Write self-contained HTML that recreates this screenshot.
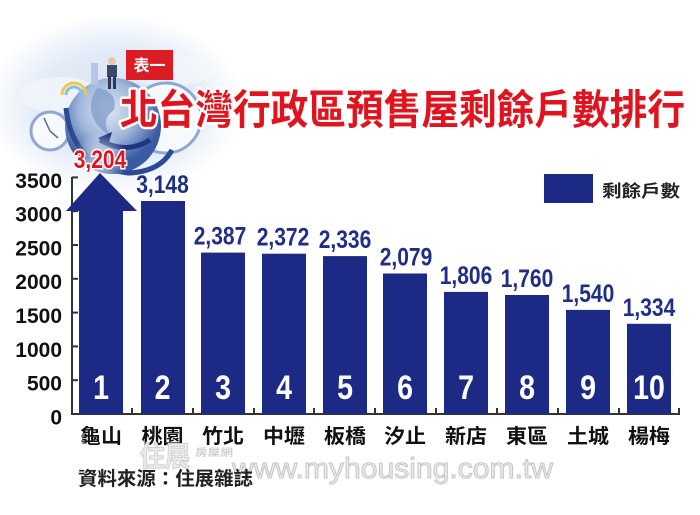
<!DOCTYPE html>
<html><head><meta charset="utf-8"><style>
html,body{margin:0;padding:0;background:#fff;}
svg{display:block;}
text{font-family:"Liberation Sans","Noto Sans CJK TC",sans-serif;}
.cjk{font-family:"Liberation Sans","Noto Sans CJK TC",sans-serif;font-weight:700;}
</style></head><body>
<svg width="700" height="515" viewBox="0 0 700 515" xmlns="http://www.w3.org/2000/svg">
<defs>
<radialGradient id="haze" cx="115" cy="105" r="130" gradientUnits="userSpaceOnUse" gradientTransform="translate(115 105) scale(1 0.7) translate(-115 -105)">
<stop offset="0" stop-color="#d6e2f3"/><stop offset="0.6" stop-color="#e3ebf7"/><stop offset="1" stop-color="#ffffff"/>
</radialGradient>
<radialGradient id="globe" cx="108" cy="110" r="54" gradientUnits="userSpaceOnUse">
<stop offset="0" stop-color="#dfe8f4"/><stop offset="0.55" stop-color="#9fb6da"/><stop offset="1" stop-color="#3a5ba3"/>
</radialGradient>
<radialGradient id="glow" cx="100" cy="160" r="28" gradientUnits="userSpaceOnUse">
<stop offset="0" stop-color="#ffffff" stop-opacity="0.8"/><stop offset="1" stop-color="#ffffff" stop-opacity="0"/>
</radialGradient>
</defs>
<rect width="700" height="515" fill="#fff"/>
<!-- illustration -->
<ellipse cx="115" cy="105" rx="130" ry="90" fill="url(#haze)"/>
<ellipse cx="60" cy="95" rx="40" ry="18" fill="#f3f6fb" opacity="0.8"/>
<ellipse cx="170" cy="70" rx="45" ry="16" fill="#f3f6fb" opacity="0.7"/>
<!-- right clock -->
<circle cx="166" cy="118" r="35" fill="#f7f9fd" stroke="#8fa7d2" stroke-width="3"/>
<!-- left clock -->
<circle cx="50" cy="131" r="19" fill="#f7f9fd" stroke="#8fa7d2" stroke-width="3"/>
<line x1="50" y1="131" x2="44" y2="118" stroke="#5a6f99" stroke-width="1.5"/>
<line x1="50" y1="131" x2="58" y2="138" stroke="#5a6f99" stroke-width="1.5"/>
<!-- globe -->
<circle cx="113" cy="126" r="48" fill="url(#globe)"/>
<path d="M66 108 Q72 166 128 173 Q160 172 172 150" fill="none" stroke="#2c4a94" stroke-width="5"/>
<path d="M98 88 Q118 92 114 110 Q100 120 110 135 Q98 130 92 115 Q88 98 98 88Z" fill="#7f9bc8" opacity="0.75"/>
<path d="M100 140 Q125 155 150 140" fill="none" stroke="#1e3580" stroke-width="5"/>
<polygon points="98,138 112,132 108,146" fill="#1e3580"/>
<!-- rainbow -->
<path d="M62 95 A12 12 0 0 1 86 95" fill="none" stroke="#f2c84a" stroke-width="3"/>
<path d="M66 95 A8 8 0 0 1 82 95" fill="none" stroke="#7fc4e8" stroke-width="3"/>
<!-- tower & person -->
<rect x="91" y="63" width="7" height="22" fill="#b7c6e6"/>
<rect x="107" y="65" width="10" height="12" fill="#3b4a6b"/>
<circle cx="112" cy="61" r="4" fill="#e8c9a8"/>
<rect x="108" y="76" width="3" height="13" fill="#2f3b55"/>
<rect x="113" y="76" width="3" height="13" fill="#2f3b55"/>
<circle cx="100" cy="160" r="28" fill="url(#glow)"/>
<!-- 表一 box -->
<rect x="126" y="50" width="47" height="30" fill="#dc1c24"/>
<text class="cjk" x="149.5" y="71" font-size="16" fill="#fff" text-anchor="middle">表一</text>
<!-- title -->
<text class="cjk" x="120" y="124" font-size="41" font-weight="900" fill="#e0141f" stroke="#fff" stroke-width="5" paint-order="stroke" stroke-linejoin="round" textLength="565" lengthAdjust="spacingAndGlyphs">北台灣行政區預售屋剩餘戶數排行</text>
<!-- legend -->
<rect x="544" y="174" width="49" height="29" fill="#1c2a86"/>
<text class="cjk" x="602" y="197" font-size="17" fill="#222" textLength="78" lengthAdjust="spacingAndGlyphs">剩餘戶數</text>
<!-- axes -->
<g stroke="#333" stroke-width="2">
<line x1="72" y1="177" x2="72" y2="415"/>
<line x1="71" y1="414" x2="680" y2="414"/>
<line x1="72" y1="177.4" x2="78" y2="177.4"/>
<line x1="72" y1="211.2" x2="78" y2="211.2"/>
<line x1="72" y1="245" x2="78" y2="245"/>
<line x1="72" y1="278.8" x2="78" y2="278.8"/>
<line x1="72" y1="312.6" x2="78" y2="312.6"/>
<line x1="72" y1="346.4" x2="78" y2="346.4"/>
<line x1="72" y1="380.2" x2="78" y2="380.2"/>
<line x1="132" y1="408" x2="132" y2="414"/>
<line x1="193" y1="408" x2="193" y2="414"/>
<line x1="254" y1="408" x2="254" y2="414"/>
<line x1="314" y1="408" x2="314" y2="414"/>
<line x1="375" y1="408" x2="375" y2="414"/>
<line x1="436" y1="408" x2="436" y2="414"/>
<line x1="497" y1="408" x2="497" y2="414"/>
<line x1="558" y1="408" x2="558" y2="414"/>
<line x1="619" y1="408" x2="619" y2="414"/>
<line x1="679" y1="408" x2="679" y2="414"/>
</g>
<g font-size="21" font-weight="700" fill="#111" text-anchor="end">
<text x="62" y="188">3500</text>
<text x="62" y="221.5">3000</text>
<text x="62" y="255.5">2500</text>
<text x="62" y="289">2000</text>
<text x="62" y="323">1500</text>
<text x="62" y="357">1000</text>
<text x="62" y="390.5">500</text>
<text x="62" y="424.5">0</text>
</g>
<!-- bars -->
<g fill="#1c2a86">
<polygon points="100,173 137,211 123,211 123,414 79,414 79,211 66,211"/>
<rect x="141" y="201" width="44" height="213"/>
<rect x="201" y="252.6" width="44" height="161.4"/>
<rect x="262" y="253.7" width="44" height="160.3"/>
<rect x="323" y="256.1" width="44" height="157.9"/>
<rect x="383" y="273.5" width="44" height="140.5"/>
<rect x="444" y="291.9" width="44" height="122.1"/>
<rect x="505" y="295" width="44" height="119"/>
<rect x="566" y="309.9" width="44" height="104.1"/>
<rect x="627" y="323.8" width="44" height="90.2"/>
</g>
<!-- value labels -->
<g font-size="25" font-weight="700" text-anchor="middle">
<text transform="translate(100,168) scale(0.84,1)" fill="#e0141f" stroke="#fff" stroke-width="3" paint-order="stroke">3,204</text>
<g fill="#1f2e87">
<text transform="translate(162.5,193) scale(0.84,1)">3,148</text>
<text transform="translate(220,244.6) scale(0.84,1)">2,387</text>
<text transform="translate(283,245.7) scale(0.84,1)">2,372</text>
<text transform="translate(345,248.1) scale(0.84,1)">2,336</text>
<text transform="translate(406,265.5) scale(0.84,1)">2,079</text>
<text transform="translate(466,283.9) scale(0.84,1)">1,806</text>
<text transform="translate(527,287) scale(0.84,1)">1,760</text>
<text transform="translate(588,301.9) scale(0.84,1)">1,540</text>
<text transform="translate(649,315.8) scale(0.84,1)">1,334</text>
</g>
</g>
<!-- rank numbers -->
<g font-size="34" font-weight="700" fill="#fff" text-anchor="middle">
<text transform="translate(101,399) scale(0.84,1)">1</text>
<text transform="translate(162.5,399) scale(0.84,1)">2</text>
<text transform="translate(223,399) scale(0.84,1)">3</text>
<text transform="translate(284,399) scale(0.84,1)">4</text>
<text transform="translate(345,399) scale(0.84,1)">5</text>
<text transform="translate(405,399) scale(0.84,1)">6</text>
<text transform="translate(466,399) scale(0.84,1)">7</text>
<text transform="translate(527,399) scale(0.84,1)">8</text>
<text transform="translate(588,399) scale(0.84,1)">9</text>
<text transform="translate(649,399) scale(0.84,1)">10</text>
</g>
<!-- x labels -->
<g class="cjk" font-size="20" fill="#111" text-anchor="middle">
<text x="101" y="443" textLength="42" lengthAdjust="spacingAndGlyphs">龜山</text>
<text x="162.5" y="443" textLength="42" lengthAdjust="spacingAndGlyphs">桃園</text>
<text x="223" y="443" textLength="42" lengthAdjust="spacingAndGlyphs">竹北</text>
<text x="284" y="443" textLength="42" lengthAdjust="spacingAndGlyphs">中壢</text>
<text x="345" y="443" textLength="42" lengthAdjust="spacingAndGlyphs">板橋</text>
<text x="405" y="443" textLength="42" lengthAdjust="spacingAndGlyphs">汐止</text>
<text x="466" y="443" textLength="42" lengthAdjust="spacingAndGlyphs">新店</text>
<text x="527" y="443" textLength="42" lengthAdjust="spacingAndGlyphs">東區</text>
<text x="588" y="443" textLength="42" lengthAdjust="spacingAndGlyphs">土城</text>
<text x="649" y="443" textLength="42" lengthAdjust="spacingAndGlyphs">楊梅</text>
</g>
<!-- watermark -->
<text class="cjk" x="140" y="466" font-size="28" fill="#ececec" stroke="#cfcfcf" stroke-width="1" textLength="50" lengthAdjust="spacingAndGlyphs">住展</text>
<text class="cjk" x="195" y="456" font-size="10" fill="#d0d0d0" textLength="38" lengthAdjust="spacingAndGlyphs">房屋網</text>
<text x="232" y="478" font-size="29" fill="#ececec" stroke="#c6c6c6" stroke-width="1" textLength="321" lengthAdjust="spacingAndGlyphs">www.myhousing.com.tw</text>
<!-- source -->
<text class="cjk" x="78" y="485" font-size="19" fill="#222" textLength="175" lengthAdjust="spacingAndGlyphs">資料來源：住展雜誌</text>
</svg>
</body></html>
